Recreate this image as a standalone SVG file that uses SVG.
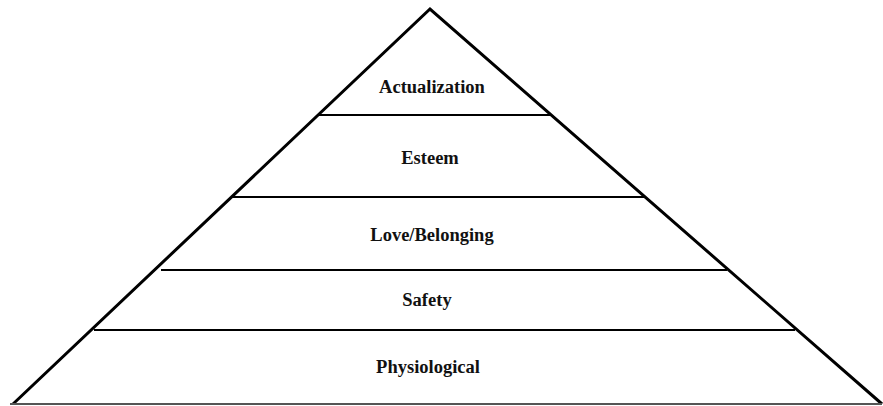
<svg xmlns="http://www.w3.org/2000/svg" width="883" height="406" viewBox="0 0 883 406">
  <style>
    .edge { fill: none; stroke: #000; stroke-width: 3; stroke-linejoin: miter; }
    .tier { stroke: #000; stroke-width: 2; }
    .base { stroke: #555; stroke-width: 2; }
    .label { font-family: "Liberation Serif", "Times New Roman", serif; font-weight: bold; font-size: 18.5px; fill: #111; text-anchor: middle; }
  </style>
  <rect width="883" height="406" fill="#fff"/>
  <g id="connectors">
    <!-- outer sides of the pyramid -->
    <polyline class="edge" points="13,404 430,9 882,404"/>
    <!-- tier separators -->
    <line class="tier" x1="318" y1="115" x2="551" y2="115"/>
    <line class="tier" x1="231" y1="197" x2="645" y2="197"/>
    <line class="tier" x1="161" y1="270" x2="727" y2="270"/>
    <line class="tier" x1="94" y1="330" x2="795" y2="330"/>
    <line class="base" x1="10" y1="404" x2="882" y2="404"/>
  </g>
  <g id="actualization"><text class="label" x="432" y="93">Actualization</text></g>
  <g id="esteem"><text class="label" x="430" y="164">Esteem</text></g>
  <g id="love-belonging"><text class="label" x="432" y="241">Love/Belonging</text></g>
  <g id="safety"><text class="label" x="427" y="306">Safety</text></g>
  <g id="physiological"><text class="label" x="428" y="373">Physiological</text></g>
</svg>
